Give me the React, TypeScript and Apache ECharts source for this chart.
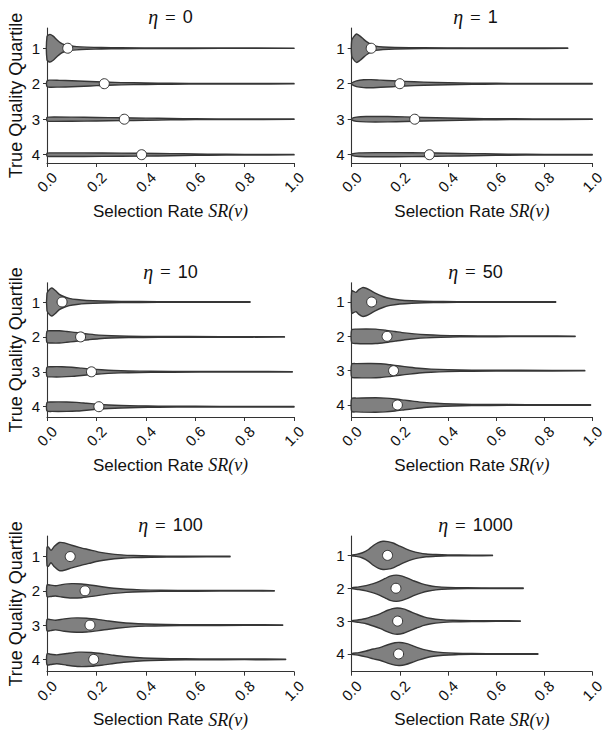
import React, { useEffect, useRef } from "react";
import * as echarts from "echarts";

// ---------- data ----------
const etaLabels = ["0", "1", "10", "50", "100", "1000"];
const quartiles = [1, 2, 3, 4];
const xTickValues = [0, 0.2, 0.4, 0.6, 0.8, 1.0];

// medians (white dots) per panel, quartiles 1..4
const medEta0 = [0.084, 0.232, 0.313, 0.383];
const medEta1 = [0.081, 0.2, 0.262, 0.323];
const medEta10 = [0.061, 0.136, 0.18, 0.21];
const medEta50 = [0.083, 0.147, 0.174, 0.19];
const medEta100 = [0.094, 0.154, 0.174, 0.189];
const medEta1000 = [0.149, 0.184, 0.191, 0.195];

// violin profiles: [selection rate, half width (in quartile units)]
const vEta0Q1 = [[0, 0.33], [0.012, 0.39], [0.025, 0.34], [0.04, 0.24], [0.055, 0.15], [0.07, 0.1], [0.09, 0.07], [0.12, 0.045], [0.16, 0.03], [0.22, 0.02], [0.3, 0.013], [0.45, 0.008], [0.7, 0.005], [1.0, 0.004]];
const vEta0Q2 = [[0, 0.08], [0.01, 0.1], [0.05, 0.095], [0.1, 0.085], [0.15, 0.07], [0.2, 0.055], [0.25, 0.042], [0.3, 0.032], [0.4, 0.02], [0.5, 0.013], [0.65, 0.008], [0.8, 0.006], [1.0, 0.005]];
const vEta0Q3 = [[0, 0.05], [0.01, 0.06], [0.1, 0.058], [0.2, 0.05], [0.3, 0.04], [0.4, 0.03], [0.5, 0.02], [0.6, 0.013], [0.75, 0.008], [1.0, 0.005]];
const vEta0Q4 = [[0, 0.04], [0.01, 0.05], [0.15, 0.05], [0.3, 0.045], [0.45, 0.035], [0.55, 0.025], [0.65, 0.015], [0.8, 0.009], [1.0, 0.006]];

const vEta1Q1 = [[0, 0.22], [0.008, 0.32], [0.02, 0.4], [0.035, 0.34], [0.05, 0.25], [0.065, 0.17], [0.08, 0.11], [0.1, 0.06], [0.13, 0.035], [0.18, 0.02], [0.3, 0.012], [0.5, 0.008], [0.7, 0.006], [0.898, 0.005]];
const vEta1Q2 = [[0, 0.02], [0.02, 0.08], [0.05, 0.11], [0.08, 0.115], [0.12, 0.1], [0.17, 0.085], [0.22, 0.065], [0.3, 0.045], [0.4, 0.028], [0.5, 0.018], [0.6, 0.012], [0.8, 0.008], [1.0, 0.006]];
const vEta1Q3 = [[0, 0.02], [0.02, 0.06], [0.06, 0.075], [0.15, 0.075], [0.22, 0.065], [0.3, 0.05], [0.4, 0.035], [0.5, 0.022], [0.6, 0.014], [0.75, 0.009], [1.0, 0.006]];
const vEta1Q4 = [[0, 0.02], [0.03, 0.05], [0.1, 0.058], [0.25, 0.055], [0.35, 0.048], [0.45, 0.035], [0.55, 0.025], [0.65, 0.016], [0.8, 0.01], [1.0, 0.007]];

const vEta10Q1 = [[0, 0.25], [0.01, 0.36], [0.02, 0.4], [0.035, 0.32], [0.05, 0.22], [0.07, 0.15], [0.09, 0.105], [0.12, 0.07], [0.16, 0.045], [0.22, 0.028], [0.3, 0.018], [0.45, 0.011], [0.65, 0.008], [0.822, 0.006]];
const vEta10Q2 = [[0, 0.16], [0.02, 0.175], [0.05, 0.175], [0.08, 0.155], [0.11, 0.13], [0.14, 0.105], [0.17, 0.08], [0.21, 0.052], [0.26, 0.033], [0.33, 0.02], [0.45, 0.012], [0.7, 0.008], [0.961, 0.006]];
const vEta10Q3 = [[0, 0.13], [0.02, 0.145], [0.06, 0.145], [0.1, 0.13], [0.14, 0.105], [0.18, 0.08], [0.22, 0.058], [0.27, 0.038], [0.33, 0.025], [0.42, 0.016], [0.6, 0.01], [0.8, 0.008], [0.993, 0.006]];
const vEta10Q4 = [[0, 0.12], [0.02, 0.135], [0.08, 0.135], [0.12, 0.125], [0.16, 0.1], [0.2, 0.075], [0.25, 0.05], [0.3, 0.035], [0.37, 0.024], [0.45, 0.016], [0.6, 0.011], [0.8, 0.008], [1.0, 0.007]];

const vEta50Q1 = [[0, 0.33], [0.008, 0.31], [0.018, 0.28], [0.03, 0.36], [0.045, 0.42], [0.06, 0.4], [0.08, 0.33], [0.1, 0.25], [0.13, 0.16], [0.16, 0.1], [0.2, 0.06], [0.25, 0.035], [0.3, 0.022], [0.38, 0.014], [0.5, 0.01], [0.7, 0.007], [0.848, 0.006]];
const vEta50Q2 = [[0, 0.19], [0.02, 0.21], [0.06, 0.215], [0.1, 0.21], [0.14, 0.18], [0.18, 0.14], [0.22, 0.1], [0.26, 0.07], [0.31, 0.045], [0.37, 0.028], [0.45, 0.017], [0.6, 0.011], [0.8, 0.008], [0.929, 0.006]];
const vEta50Q3 = [[0, 0.19], [0.02, 0.205], [0.08, 0.21], [0.12, 0.2], [0.16, 0.17], [0.2, 0.135], [0.24, 0.1], [0.28, 0.07], [0.33, 0.045], [0.4, 0.027], [0.5, 0.016], [0.7, 0.01], [0.969, 0.006]];
const vEta50Q4 = [[0, 0.19], [0.02, 0.2], [0.1, 0.21], [0.14, 0.2], [0.18, 0.175], [0.22, 0.14], [0.26, 0.105], [0.3, 0.075], [0.35, 0.05], [0.42, 0.03], [0.5, 0.019], [0.65, 0.012], [0.8, 0.009], [0.993, 0.007]];

const vEta100Q1 = [[0, 0.27], [0.006, 0.28], [0.016, 0.18], [0.03, 0.3], [0.05, 0.41], [0.07, 0.4], [0.1, 0.33], [0.13, 0.27], [0.17, 0.2], [0.21, 0.13], [0.25, 0.085], [0.3, 0.05], [0.35, 0.03], [0.42, 0.018], [0.55, 0.011], [0.741, 0.007]];
const vEta100Q2 = [[0, 0.17], [0.015, 0.165], [0.035, 0.15], [0.06, 0.18], [0.1, 0.21], [0.14, 0.2], [0.19, 0.155], [0.23, 0.11], [0.27, 0.075], [0.32, 0.045], [0.38, 0.027], [0.46, 0.017], [0.6, 0.011], [0.8, 0.008], [0.92, 0.007]];
const vEta100Q3 = [[0, 0.165], [0.015, 0.16], [0.035, 0.14], [0.07, 0.18], [0.12, 0.21], [0.16, 0.2], [0.21, 0.16], [0.25, 0.12], [0.29, 0.085], [0.34, 0.052], [0.4, 0.03], [0.48, 0.018], [0.6, 0.012], [0.8, 0.008], [0.954, 0.007]];
const vEta100Q4 = [[0, 0.16], [0.015, 0.15], [0.04, 0.13], [0.08, 0.17], [0.13, 0.21], [0.18, 0.2], [0.23, 0.16], [0.27, 0.12], [0.31, 0.085], [0.36, 0.055], [0.42, 0.033], [0.5, 0.02], [0.62, 0.013], [0.8, 0.009], [0.966, 0.007]];

const vEta1000Q1 = [[0, 0.01], [0.02, 0.03], [0.045, 0.08], [0.07, 0.18], [0.09, 0.3], [0.11, 0.39], [0.13, 0.43], [0.15, 0.42], [0.175, 0.37], [0.2, 0.28], [0.225, 0.2], [0.25, 0.13], [0.28, 0.075], [0.31, 0.042], [0.35, 0.025], [0.4, 0.015], [0.5, 0.009], [0.585, 0.007]];
const vEta1000Q2 = [[0, 0.01], [0.03, 0.04], [0.06, 0.08], [0.09, 0.14], [0.115, 0.21], [0.14, 0.3], [0.16, 0.37], [0.185, 0.4], [0.21, 0.37], [0.235, 0.3], [0.26, 0.22], [0.29, 0.14], [0.32, 0.085], [0.35, 0.05], [0.4, 0.025], [0.48, 0.013], [0.6, 0.008], [0.713, 0.007]];
const vEta1000Q3 = [[0, 0.01], [0.03, 0.04], [0.06, 0.08], [0.09, 0.15], [0.12, 0.23], [0.15, 0.33], [0.17, 0.38], [0.19, 0.4], [0.215, 0.37], [0.24, 0.3], [0.27, 0.21], [0.3, 0.13], [0.33, 0.08], [0.37, 0.045], [0.42, 0.024], [0.5, 0.013], [0.6, 0.009], [0.701, 0.007]];
const vEta1000Q4 = [[0, 0.01], [0.03, 0.04], [0.06, 0.09], [0.09, 0.15], [0.12, 0.2], [0.15, 0.28], [0.18, 0.34], [0.2, 0.35], [0.225, 0.32], [0.25, 0.26], [0.28, 0.18], [0.31, 0.115], [0.34, 0.07], [0.38, 0.04], [0.43, 0.022], [0.5, 0.013], [0.62, 0.009], [0.774, 0.007]];

const panelMedians = [medEta0, medEta1, medEta10, medEta50, medEta100, medEta1000];
const panelViolins = [
  [vEta0Q1, vEta0Q2, vEta0Q3, vEta0Q4],
  [vEta1Q1, vEta1Q2, vEta1Q3, vEta1Q4],
  [vEta10Q1, vEta10Q2, vEta10Q3, vEta10Q4],
  [vEta50Q1, vEta50Q2, vEta50Q3, vEta50Q4],
  [vEta100Q1, vEta100Q2, vEta100Q3, vEta100Q4],
  [vEta1000Q1, vEta1000Q2, vEta1000Q3, vEta1000Q4],
];
// y-axis extents (quartile units) per panel
const yMins = [0.43, 0.43, 0.447, 0.438, 0.4, 0.41];
const yMaxs = [4.234, 4.234, 4.295, 4.35, 4.36, 4.54];

// ---------- layout ----------
const colLefts = [47, 351.7];
const colWidths = [247, 247.6];
const rowTops = [28, 282.7, 536];
const rowHeights = [135, 134.3, 135.7];

const SANS = "'Liberation Sans', Arial, sans-serif";
const SERIF = "'Liberation Serif', 'DejaVu Serif', serif";
const INK = "#111";
const AXIS = "#333";

export default function App() {
  const ref = useRef<HTMLDivElement>(null);
  useEffect(() => {
    if (!ref.current) return;
    const chart = echarts.init(ref.current, null, { renderer: "svg" });
    const grids: any[] = [];
    const xAxes: any[] = [];
    const yAxes: any[] = [];
    const series: any[] = [];
    const graphics: any[] = [];

    etaLabels.forEach((eta, p) => {
      const col = p % 2;
      const row = Math.floor(p / 2);
      const left = colLefts[col];
      const top = rowTops[row];
      const width = colWidths[col];
      const height = rowHeights[row];
      grids.push({ left, top, width, height, containLabel: false });
      xAxes.push({
        type: "value",
        gridIndex: p,
        min: 0,
        max: 1,
        interval: 0.2,
        splitLine: { show: false },
        axisLine: { onZero: false, lineStyle: { color: AXIS, width: 1.1 } },
        axisTick: { length: 4, lineStyle: { color: AXIS } },
        axisLabel: {
          rotate: 45,
          align: "center",
          verticalAlign: "middle",
          margin: 19,
          fontSize: 15,
          fontFamily: SANS,
          color: INK,
          formatter: (v: number) => v.toFixed(1),
        },
        name: "{s|Selection Rate }{m|SR(v)}",
        nameLocation: "middle",
        nameGap: 39,
        nameTextStyle: {
          rich: {
            s: { fontSize: 17, fontFamily: SANS, color: INK },
            m: { fontSize: 18, fontFamily: SERIF, fontStyle: "italic", color: INK },
          },
        },
      });
      yAxes.push({
        type: "value",
        gridIndex: p,
        inverse: true,
        min: yMins[p],
        max: yMaxs[p],
        splitLine: { show: false },
        axisLine: { show: true, onZero: false, lineStyle: { color: AXIS, width: 1.1 } },
        axisTick: { show: true, length: 4, customValues: quartiles, lineStyle: { color: AXIS } },
        axisLabel: {
          customValues: quartiles,
          margin: 7,
          fontSize: 15,
          fontFamily: SANS,
          color: INK,
          formatter: (v: number) => String(Math.round(v)),
        },
        name: col === 0 ? "True Quality Quartile" : "",
        nameLocation: "middle",
        nameGap: 22,
        nameTextStyle: { fontSize: 18, fontFamily: SANS, color: INK },
      });
      const violins = panelViolins[p];
      series.push({
        type: "custom",
        xAxisIndex: p,
        yAxisIndex: p,
        data: quartiles.map((q, i) => [panelMedians[p][i], q]),
        renderItem: (params: any, api: any) => {
          const q = api.value(1);
          const prof = violins[q - 1];
          const topPts = prof.map(([x, w]: number[]) => api.coord([x, q - w]));
          const botPts = prof
            .slice()
            .reverse()
            .map(([x, w]: number[]) => api.coord([x, q + w]));
          return {
            type: "polygon",
            shape: { points: topPts.concat(botPts), smooth: 0.25 },
            style: { fill: "#808080", stroke: "#363636", lineWidth: 1.4 },
          };
        },
        z: 2,
      });
      series.push({
        type: "scatter",
        xAxisIndex: p,
        yAxisIndex: p,
        data: quartiles.map((q, i) => [panelMedians[p][i], q]),
        symbol: "circle",
        symbolSize: 10,
        itemStyle: { color: "#ffffff", borderColor: "#333", borderWidth: 1, opacity: 1 },
        z: 3,
      });
      graphics.push({
        type: "text",
        x: left + width / 2,
        y: top - 11,
        style: {
          text: "{m|η}{r|=}{s|" + eta + "}",
          align: "center",
          verticalAlign: "middle",
          rich: {
            m: { fontSize: 20, fontFamily: SERIF, fontStyle: "italic", fill: INK },
            r: { fontSize: 19, fontFamily: SERIF, fill: INK, padding: [0, 7] },
            s: { fontSize: 18, fontFamily: SANS, fill: INK },
          },
        },
      });
    });

    chart.setOption({
      animation: false,
      backgroundColor: "#ffffff",
      grid: grids,
      xAxis: xAxes,
      yAxis: yAxes,
      series,
      graphic: graphics,
    });
    return () => chart.dispose();
  }, []);
  return (
    <div
      ref={ref}
      style={{ position: "fixed", left: 0, top: 0, width: 607, height: 732, background: "#fff" }}
    />
  );
}
